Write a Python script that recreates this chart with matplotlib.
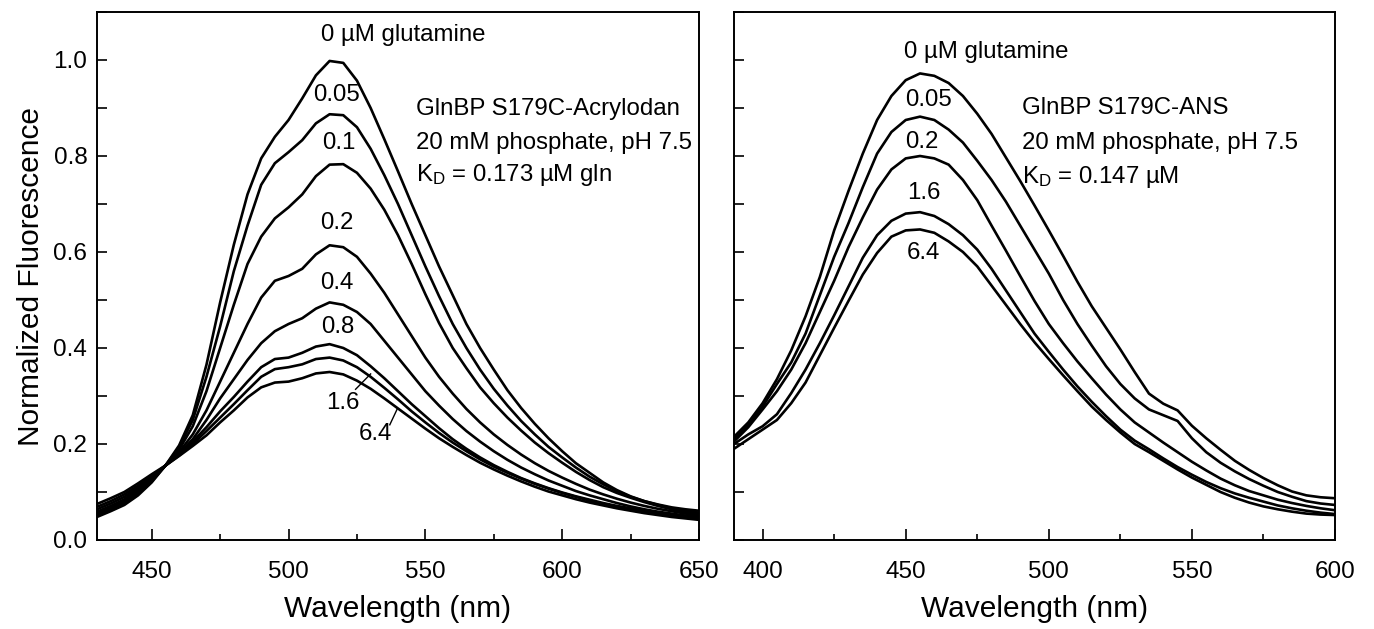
import matplotlib
matplotlib.use("Agg")
import matplotlib.pyplot as plt
from matplotlib.ticker import MultipleLocator, FormatStrFormatter

plt.rcParams['font.family'] = ['Liberation Sans', 'DejaVu Sans']
plt.rcParams['mathtext.fontset'] = 'custom'
plt.rcParams['mathtext.rm'] = 'Liberation Sans'
plt.rcParams['mathtext.it'] = 'Liberation Sans'

# ---------------- Left panel: GlnBP S179C-Acrylodan ----------------
wl_left = list(range(430, 655, 5))
acr_0 = [.048, .060, .073, .093, .120, .155, .197, .260, .365, .495,
         .615, .720, .795, .840, .875, .920, .968, .998, .994, .957,
         .900, .835, .768, .700, .635, .570, .510, .450, .400, .355,
         .312, .275, .242, .212, .185, .160, .140, .120, .104, .091,
         .081, .074, .068, .064, .061]
acr_005 = [.051, .063, .076, .096, .122, .155, .193, .250, .340, .445,
           .560, .655, .740, .785, .808, .833, .868, .887, .885, .860,
           .815, .760, .700, .635, .570, .508, .450, .400, .355, .315,
           .280, .248, .220, .194, .172, .151, .132, .116, .102, .090,
           .081, .073, .066, .061, .057]
acr_01 = [.054, .066, .079, .099, .124, .155, .188, .237, .310, .400,
          .490, .575, .632, .670, .693, .720, .758, .782, .783, .765,
          .732, .688, .635, .575, .512, .452, .400, .358, .318, .285,
          .255, .228, .203, .181, .161, .142, .125, .110, .098, .088,
          .079, .071, .064, .058, .054]
acr_02 = [.056, .068, .082, .102, .126, .155, .183, .220, .270, .330,
          .390, .450, .505, .540, .550, .565, .595, .614, .610, .590,
          .555, .515, .470, .425, .380, .340, .305, .273, .245, .220,
          .198, .178, .160, .144, .130, .117, .105, .095, .086, .078,
          .071, .065, .060, .055, .052]
acr_04 = [.059, .071, .085, .105, .128, .155, .180, .210, .250, .295,
          .335, .375, .410, .435, .450, .462, .482, .495, .490, .475,
          .450, .415, .380, .345, .310, .280, .252, .227, .205, .185,
          .167, .151, .137, .124, .113, .102, .093, .085, .077, .070,
          .064, .059, .055, .051, .049]
acr_08 = [.064, .076, .090, .109, .131, .155, .178, .205, .235, .268,
          .298, .330, .360, .377, .380, .390, .403, .408, .400, .385,
          .362, .337, .310, .283, .258, .233, .210, .190, .172, .156,
          .142, .129, .118, .108, .099, .091, .084, .077, .071, .066,
          .061, .057, .053, .049, .047]
acr_16 = [.069, .081, .095, .113, .134, .155, .176, .200, .227, .255,
          .283, .312, .340, .356, .360, .366, .377, .380, .374, .360,
          .340, .317, .293, .268, .245, .223, .203, .185, .168, .153,
          .140, .128, .117, .107, .098, .090, .082, .075, .069, .064,
          .059, .055, .051, .047, .045]
acr_64 = [.075, .087, .100, .118, .137, .155, .175, .196, .218, .245,
          .270, .297, .318, .328, .330, .337, .347, .350, .345, .332,
          .315, .295, .274, .253, .232, .212, .194, .177, .161, .147,
          .134, .122, .111, .101, .093, .085, .078, .072, .066, .061,
          .056, .052, .048, .045, .042]
left_series = [acr_0, acr_005, acr_01, acr_02, acr_04, acr_08, acr_16, acr_64]
left_labels = ["0.05", "0.1", "0.2", "0.4", "0.8", "1.6", "6.4"]
left_label_x = [517.6, 518.2, 517.8, 517.6, 517.8, 519.7, 531.8]
left_label_y = [.927, .828, .660, .535, .444, .285, .221]

# ---------------- Right panel: GlnBP S179C-ANS ----------------
wl_right = list(range(390, 605, 5))
ans_0 = [.215, .245, .285, .335, .395, .466, .548, .645, .727, .805,
         .875, .925, .958, .972, .967, .952, .925, .888, .846, .797,
         .748, .697, .645, .592, .538, .487, .442, .397, .350, .305,
         .284, .270, .238, .212, .188, .165, .146, .129, .114, .101,
         .093, .089, .087]
ans_005 = [.210, .240, .278, .325, .370, .430, .510, .590, .660, .735,
           .805, .850, .875, .882, .875, .855, .828, .790, .750, .705,
           .655, .605, .555, .500, .450, .405, .362, .325, .295, .272,
           .260, .248, .212, .183, .161, .143, .127, .113, .100, .090,
           .081, .076, .073]
ans_02 = [.205, .235, .272, .310, .355, .410, .475, .540, .610, .672,
          .730, .772, .795, .800, .795, .782, .750, .708, .655, .603,
          .550, .498, .450, .410, .372, .337, .303, .272, .245, .224,
          .203, .183, .163, .145, .128, .114, .102, .093, .084, .077,
          .071, .066, .062]
ans_16 = [.200, .220, .237, .262, .306, .355, .410, .468, .528, .588,
          .635, .665, .680, .683, .675, .658, .635, .605, .565, .520,
          .475, .430, .392, .355, .320, .288, .258, .230, .207, .189,
          .170, .152, .136, .121, .108, .097, .088, .080, .072, .066,
          .061, .057, .054]
ans_64 = [.190, .210, .230, .250, .285, .328, .385, .442, .498, .553,
          .598, .632, .645, .647, .640, .622, .600, .570, .530, .490,
          .450, .412, .377, .343, .310, .278, .250, .224, .200, .183,
          .165, .147, .130, .115, .100, .088, .078, .070, .064, .059,
          .055, .053, .052]
right_series = [ans_0, ans_005, ans_02, ans_16, ans_64]
right_labels = ["0.05", "0.2", "1.6", "6.4"]
right_label_x = [457.9, 455.6, 456.2, 456.2]
right_label_y = [.917, .830, .722, .597]

# leader lines (left panel) for 1.6 and 6.4
lead16_x = [524.5, 530.0]
lead16_y = [.314, .346]
lead64_x = [537.0, 539.8]
lead64_y = [.240, .274]

FS_TICK = 17.5
FS_LAB = 21.5
FS_ANN = 17.3
LW = 1.9

fig = plt.figure(figsize=(13.74, 6.29), dpi=100)
ax1 = fig.add_axes([97/1374, 1-540/629, 602/1374, 528/629])
ax2 = fig.add_axes([734/1374, 1-540/629, 601/1374, 528/629])

for s in left_series:
    ax1.plot(wl_left, s, color='black', lw=LW, solid_joinstyle='round')
for s in right_series:
    ax2.plot(wl_right, s, color='black', lw=LW, solid_joinstyle='round')

ax1.plot(lead16_x, lead16_y, color='black', lw=1.0)
ax1.plot(lead64_x, lead64_y, color='black', lw=1.0)

ax1.set_xlim(430, 650)
ax2.set_xlim(390, 600)
for ax in (ax1, ax2):
    ax.set_ylim(0, 1.1)
    ax.xaxis.set_major_locator(MultipleLocator(50))
    ax.xaxis.set_minor_locator(MultipleLocator(25))
    ax.yaxis.set_major_locator(MultipleLocator(0.2))
    ax.yaxis.set_minor_locator(MultipleLocator(0.1))
    ax.tick_params(axis='x', which='major', direction='in', length=8, width=1.2,
                   labelsize=FS_TICK, pad=15, top=False)
    ax.tick_params(axis='x', which='minor', direction='in', length=4.3, width=1.2, top=False)
    ax.tick_params(axis='y', which='both', direction='in', length=7, width=1.2,
                   labelsize=FS_TICK, pad=7, right=False)
    for sp in ax.spines.values():
        sp.set_linewidth(1.4)
    ax.set_xlabel("Wavelength (nm)", fontsize=FS_LAB, labelpad=9)

ax1.yaxis.set_major_formatter(FormatStrFormatter('%.1f'))
ax2.tick_params(axis='y', which='both', labelleft=False)
ax1.set_ylabel("Normalized Fluorescence", fontsize=FS_LAB, labelpad=6)

# annotations left
ax1.text(541.8, 1.052, "0 µM glutamine", fontsize=FS_ANN, ha='center', va='center')
for t, x, y in zip(left_labels, left_label_x, left_label_y):
    ax1.text(x, y, t, fontsize=FS_ANN, ha='center', va='center')
ax1.text(546.6, .898, "GlnBP S179C-Acrylodan", fontsize=FS_ANN, ha='left', va='center')
ax1.text(546.6, .827, "20 mM phosphate, pH 7.5", fontsize=FS_ANN, ha='left', va='center')
ax1.text(546.6, .760, r"K$_\mathrm{D}$ = 0.173 µM gln", fontsize=FS_ANN, ha='left', va='center')

# annotations right
ax2.text(478.0, 1.017, "0 µM glutamine", fontsize=FS_ANN, ha='center', va='center')
for t, x, y in zip(right_labels, right_label_x, right_label_y):
    ax2.text(x, y, t, fontsize=FS_ANN, ha='center', va='center')
ax2.text(490.7, .900, "GlnBP S179C-ANS", fontsize=FS_ANN, ha='left', va='center')
ax2.text(490.7, .827, "20 mM phosphate, pH 7.5", fontsize=FS_ANN, ha='left', va='center')
ax2.text(490.7, .756, r"K$_\mathrm{D}$ = 0.147 µM", fontsize=FS_ANN, ha='left', va='center')

fig.savefig("out.png", dpi=100)
